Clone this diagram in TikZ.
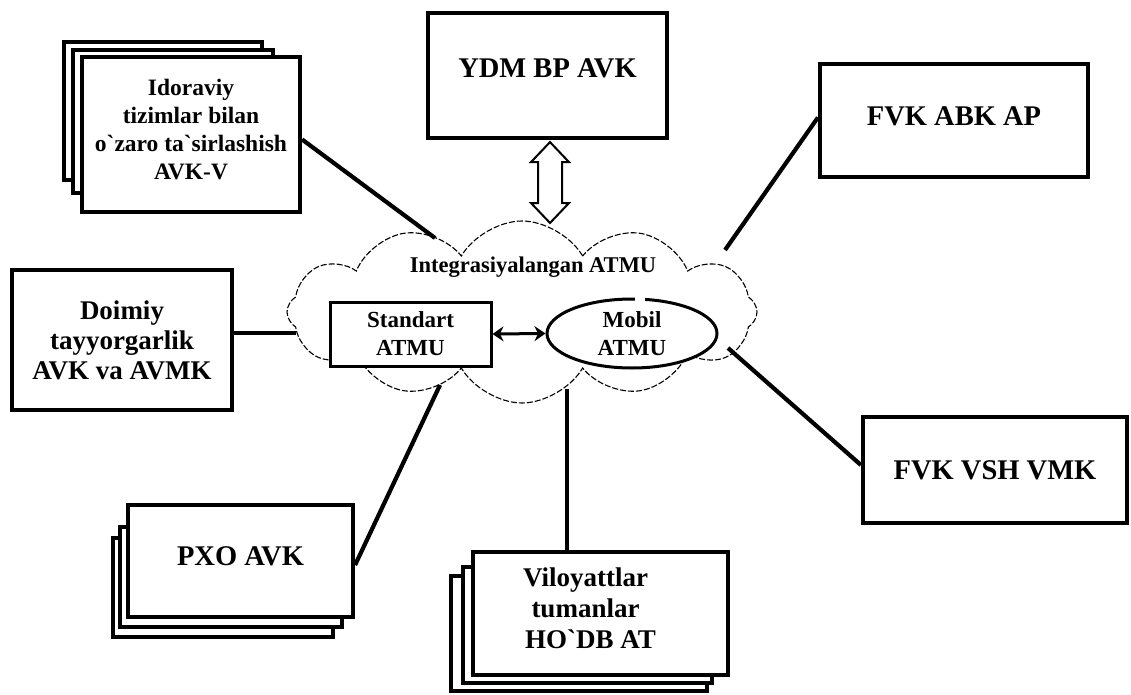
\documentclass[tikz,border=0pt]{standalone}
\usepackage{fontspec}
\setmainfont{Liberation Serif}
\usetikzlibrary{shapes.symbols,shapes.geometric,arrows.meta,calc}
\begin{document}
\begin{tikzpicture}[x=1pt,y=-1pt,
  box/.style={draw, line width=4.2pt, fill=white, inner sep=0pt, align=center,
              font=\bfseries\fontsize{28.5}{31}\selectfont},
  midbox/.style={box, font=\bfseries\fontsize{23.5}{28}\selectfont},
  layer/.style={draw, line width=4.2pt, fill=white},
  link/.style={line width=4.2pt},
  inner/.style={draw, line width=3pt, fill=white, inner sep=0pt, align=center,
              font=\bfseries\fontsize{23}{28}\selectfont},
  hollow/.style={draw, line width=2pt, fill=white, line join=miter},
  txt/.style={inner sep=0pt, align=center, font=\bfseries\fontsize{22.5}{27}\selectfont}]
\useasboundingbox (0,0) rectangle (1131,695);

% cloud
\node[cloud, draw, dash pattern=on 6pt off 2pt, fill=white, line width=1.1pt, cloud puffs=12,
      cloud puff arc=120, aspect=2.6, minimum width=470pt, minimum height=182pt,
      inner sep=0pt] (cloud) at (522,312) {};
\node[txt] (integ) at (533,267) {Integrasiyalangan ATMU};
\node[inner, minimum width=161pt, minimum height=64pt] (std) at (410.5,334) {Standart\\ATMU};
\node[inner, ellipse, minimum width=170pt, minimum height=69pt] (mob) at (632,333.5) {Mobil\\ATMU};
\fill[white] (635,295) rectangle (645,304);
\draw[line width=3pt, {Stealth[length=11pt,width=15pt]}-{Stealth[length=11pt,width=15pt]}] (std.east) -- (mob.west);

% cloud contact points
\coordinate (c-ydm) at (550,223);
\coordinate (c-idor) at (435,238);
\coordinate (c-fvk1) at (725,250);
\coordinate (c-fvk2) at (728,348);
\coordinate (c-doim) at (296,333);
\coordinate (c-pxo) at (440,385);
\coordinate (c-vil) at (567,389);

% top box
\node[box, minimum width=239pt, minimum height=125pt, text depth=14pt] (ydm) at (547.5,75.5) {YDM BP AVK};
\coordinate (ytop) at ($(ydm.south -| c-ydm)+(0,2)$);
\draw[hollow] (ytop) -- ++(19,20) -- ++(-7,0) -- ($(c-ydm)+(12,-20)$) -- ++(7,0)
  -- (c-ydm) -- ++(-19,-20) -- ++(7,0) -- ($(ytop)+(-12,20)$) -- ++(-7,0) -- cycle;

% FVK ABK AP
\node[box, minimum width=268pt, minimum height=113pt, text depth=8pt] (fvkabk) at (954,120.5) {FVK ABK AP};
\draw[link] ([yshift=3pt]fvkabk.west) -- (c-fvk1);

% FVK VSH VMK
\node[box, minimum width=264pt, minimum height=106pt] (fvkvsh) at (995,470) {FVK VSH VMK};
\draw[link] ([yshift=5pt]fvkvsh.west) -- (c-fvk2);

% Idoraviy stack
\draw[layer] (64,42) rectangle (262,180);
\draw[layer] (73,50) rectangle (273,193);
\node[midbox, minimum width=218pt, minimum height=155pt, text depth=10pt] (idor) at (191,134.5)
  {Idoraviy\\tizimlar bilan\\o\textasciigrave zaro ta\textasciigrave sirlashish\\AVK-V};
\draw[link] ([yshift=-5pt]idor.east) -- (c-idor);

% Doimiy
\node[box, minimum width=220pt, minimum height=140pt, font=\bfseries\fontsize{27}{30}\selectfont] (doimiy) at (122,340)
  {Doimiy\\tayyorgarlik\\AVK va AVMK};
\draw[link] ([yshift=7pt]doimiy.east) -- (c-doim);

% PXO stack
\draw[layer] (113,538) rectangle (333,637);
\draw[layer] (120,527) rectangle (342,627);
\node[box, minimum width=225pt, minimum height=112pt, text depth=10pt] (pxo) at (240.5,561) {PXO AVK};
\draw[link] ([yshift=-4pt]pxo.east) -- (c-pxo);

% Viloyattlar stack
\draw[layer] (451,576) rectangle (707,691);
\draw[layer] (463,567) rectangle (712,683);
\node[box, minimum width=255pt, minimum height=123pt, text depth=10pt, font=\bfseries\fontsize{27}{31}\selectfont] (vil) at (600.5,613.5)
  {\hspace*{-30pt}Viloyattlar\\\hspace*{-30pt}tumanlar\\\hspace*{-20pt}HO\textasciigrave DB AT};
\draw[link] (c-vil) -- (c-vil |- vil.north);
\end{tikzpicture}
\end{document}
